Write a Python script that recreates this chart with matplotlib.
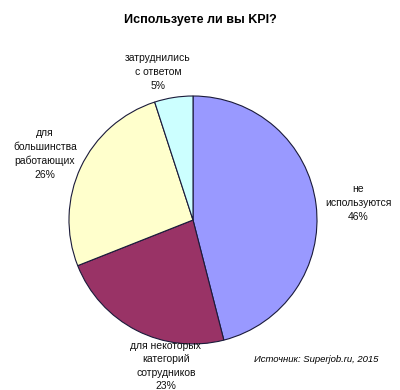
import matplotlib
matplotlib.use("Agg")
from matplotlib import pyplot as plt

plt.rcParams['font.family'] = ['Liberation Sans', 'DejaVu Sans']

labels = ["не\nиспользуются", "для некоторых\nкатегорий\nсотрудников",
          "для\nбольшинства\nработающих", "затруднились\nс ответом"]
values = [46, 23, 26, 5]
colors = ["#9999FF", "#993366", "#FFFFCC", "#CCFFFF"]
# label centres in figure pixels
label_pos = [(358, 203), (166, 366), (45, 154), (158, 72)]

fig = plt.figure(figsize=(4, 3.9), dpi=100)
r = 124
cx, cy = 193, 220
ax = fig.add_axes([(cx - r) / 400, (390 - cy - r) / 390, 2 * r / 400, 2 * r / 390])
ax.pie(values, colors=colors, startangle=90, counterclock=False,
       wedgeprops=dict(edgecolor="#1a1a3a", linewidth=0.8))
ax.set_aspect('equal')
ax.set_xlim(-1, 1)
ax.set_ylim(-1, 1)

for lab, v, (px, py) in zip(labels, values, label_pos):
    fig.text(px / 400, 1 - py / 390, lab + "\n" + str(v) + "%", ha='center', va='center',
             fontsize=7.5, linespacing=1.45, color="#111111")

fig.text(0.5, 1 - 20 / 390, "Используете ли вы KPI?", ha='center', va='center',
         fontsize=9, fontweight='bold')
fig.text(378 / 400, 1 - 360 / 390, "Источник: Superjob.ru, 2015", ha='right', va='center',
         fontsize=6.8, style='italic')

fig.savefig("out.png", dpi=100)
